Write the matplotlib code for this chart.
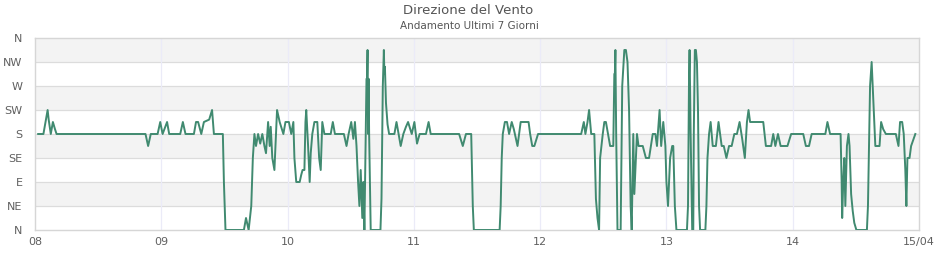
import matplotlib
matplotlib.use("Agg")
import matplotlib.pyplot as plt
import numpy as np

# Data: hours since 08/04 00:00 and wind direction index (0=N,1=NE,...,8=N)
day_offsets = [0, 24, 48, 72, 96, 120, 144]

day08_h = [0.6, 1.6, 2.0, 2.4, 2.6, 3.0, 3.4, 3.8, 4.1, 21.0, 21.5, 22.0, 23.3, 23.8]
day08_v = [4, 4, 4.5, 5, 4.6, 4, 4.5, 4.2, 4, 4, 3.5, 4, 4, 4.5]

day09_h = [0.25, 1.1, 1.5, 3.6, 4.1, 4.6, 6.2, 6.6, 7.0, 7.6, 8.1, 9.1, 9.65, 10.0,
           11.7, 11.9, 12.2, 15.7, 16.1, 16.6, 17.1, 17.4, 17.7, 18.0, 18.4, 18.8,
           19.2, 19.6, 19.9, 20.3, 20.6, 20.8, 21.1, 21.5, 22.0, 22.5, 23.2, 23.6]
day09_v = [4, 4.5, 4, 4, 4.5, 4, 4, 4.5, 4.5, 4, 4.5, 4.6, 5, 4,
           4, 2, 0, 0, 0.5, 0, 1, 3, 4, 3.5, 4, 3.6,
           4, 3.5, 3.2, 4.5, 3.5, 4.3, 3, 2.5, 5, 4.5, 4, 4.5]

day10_h = [0.25, 0.7, 1.1, 1.3, 1.65, 2.3, 2.6, 2.85, 3.2, 3.4, 3.55, 3.9, 4.2, 4.4,
           4.7, 5.1, 5.65, 6.0, 6.3, 6.6, 7.0, 8.2, 8.6, 9.0, 10.7, 11.2, 11.6,
           12.1, 12.5, 12.8, 13.1, 13.4, 13.65, 13.9, 14.2, 14.4, 14.6, 14.85,
           15.0, 15.1, 15.2, 15.3, 15.4, 15.5, 15.7, 15.8, 17.65, 17.85, 18.0,
           18.1, 18.2, 18.3, 18.4, 18.5, 18.7, 19.0, 19.3, 20.3, 20.7, 21.1, 21.5,
           22.0, 22.5, 22.9, 23.6]
day10_v = [4.5, 4, 4.5, 3, 2, 2, 2.3, 2.5, 2.5, 4.5, 5, 3.5, 2, 3.2,
           4, 4.5, 4.5, 3, 2.5, 4.5, 4, 4, 4.5, 4, 4, 3.5, 4,
           4.5, 3.8, 4.5, 3.5, 2, 1, 2.5, 0.5, 2, 0, 4,
           6.3, 6.3, 7.5, 4, 6.3, 4, 1.3, 0, 0, 1.3, 4,
           6, 6.8, 7.5, 6.5, 6.8, 5.3, 4.4, 4, 4, 4.5, 4, 3.5,
           4, 4.3, 4.5, 4]

day11_h = [0.1, 0.6, 1.1, 2.3, 2.8, 3.2, 8.6, 9.3, 9.9, 10.9, 11.0, 11.2, 11.4,
           16.3, 16.5, 16.7, 16.9, 17.3, 17.7, 18.1, 18.6, 19.0, 19.7, 20.3,
           21.8, 22.1, 22.5, 22.9, 23.6]
day11_v = [4.5, 3.6, 4, 4, 4.5, 4, 4, 3.5, 4, 4, 3, 1, 0,
           0, 1, 3, 4, 4.5, 4.5, 4, 4.5, 4.2, 3.5, 4.5,
           4.5, 4, 3.5, 3.5, 4]

day12_h = [0.0, 7.8, 8.3, 8.6, 9.0, 9.3, 9.7, 10.3, 10.6, 10.9, 11.2, 11.4, 11.9,
           12.2, 12.5, 12.9, 13.3, 13.9, 14.0, 14.1, 14.2, 14.3, 14.45, 14.7, 15.3,
           15.6, 16.0, 16.3, 16.6, 16.9, 17.2, 17.4, 17.7, 17.9, 18.1, 18.4, 18.7,
           19.5, 20.1, 20.7, 21.4, 21.9, 22.2, 22.7, 23.0, 23.4, 23.8]
day12_v = [4, 4, 4.5, 4, 4.5, 5, 4, 4, 1.3, 0.5, 0, 3, 4,
           4.5, 4.5, 4, 3.5, 3.5, 5, 6.5, 6.5, 7.5, 4, 0, 0,
           6, 7.5, 7.5, 7, 5, 1, 0, 4, 1.5, 2.5, 4, 3.5,
           3.5, 3, 3, 4, 4, 3.5, 5, 3.5, 4.5, 3.5]

day13_h = [0.0, 0.3, 0.7, 1.1, 1.3, 1.6, 1.9, 3.9, 4.1, 4.2, 4.3, 4.4, 4.6, 4.9, 5.1,
           5.2, 5.4, 5.6, 5.8, 6.0, 6.2, 6.4, 7.4, 7.6, 7.8, 8.1, 8.4, 8.8, 9.4,
           9.9, 10.5, 10.9, 11.4, 11.9, 12.4, 12.9, 13.4, 13.9, 14.4, 14.9,
           15.3, 15.6, 15.9, 18.4, 18.9, 19.9, 20.3, 20.7, 21.2, 21.7, 23.0, 23.7]
day13_v = [2, 1, 3, 3.5, 3.5, 1, 0, 0, 1, 4, 6.5, 7.5, 4, 0, 0,
           4, 7.5, 7.5, 7, 5, 1, 0, 0, 1, 3, 4, 4.5, 3.5, 3.5,
           4.5, 3.5, 3.5, 3, 3.5, 3.5, 4, 4, 4.5, 3.8, 3,
           4.5, 5, 4.5, 4.5, 3.5, 3.5, 4, 3.5, 4, 3.5, 3.5, 4]

day14_h = [0.0, 2.0, 2.5, 3.1, 3.6, 6.2, 6.6, 7.1, 9.1, 9.3, 9.4, 9.6, 9.8, 10.0,
           10.3, 10.6, 10.8, 11.1, 11.4, 11.7, 12.1, 14.1, 14.3, 14.5, 14.7,
           15.0, 15.1, 15.4, 15.7, 16.5, 16.8, 17.2, 17.7, 19.6, 20.1, 20.4,
           20.8, 21.1, 21.4, 21.6, 21.8, 22.2, 22.5, 23.3]
day14_v = [4, 4, 3.5, 3.5, 4, 4, 4.5, 4, 4, 2, 0.5, 2, 3, 1,
           3.5, 4, 3.5, 1.5, 0.8, 0.3, 0, 0, 1, 3.5, 6,
           7, 6.5, 5, 3.5, 3.5, 4.5, 4.2, 4, 4, 3.5, 4.5,
           4.5, 4, 2.5, 1, 3, 3, 3.5, 4]

day_hours = [day08_h, day09_h, day10_h, day11_h, day12_h, day13_h, day14_h]
day_values = [day08_v, day09_v, day10_v, day11_v, day12_v, day13_v, day14_v]

y_labels = ["N", "NE", "E", "SE", "S", "SW", "W", "NW", "N"]
x_labels = ["08", "09", "10", "11", "12", "13", "14", "15/04"]
title = "Direzione del Vento"
subtitle = "Andamento Ultimi 7 Giorni"

t = np.concatenate([(np.array(h) + off) / 24.0 for h, off in zip(day_hours, day_offsets)])
v = np.concatenate([np.array(vals, dtype=float) for vals in day_values])

plt.rcParams['font.family'] = ['DejaVu Sans']
fig = plt.figure(figsize=(9.4, 2.6), dpi=100)
ax = fig.add_axes([35/940, 30/260, 884/940, 192/260])

ax.set_xlim(0, 7)
ax.set_ylim(0, 8)

# alternating bands
for lo in range(1, 8, 2):
    ax.axhspan(lo, lo + 1, color="#f3f3f3", zorder=0, lw=0)
for yv in range(1, 8):
    ax.axhline(yv, color="#dcdcdc", lw=0.9, zorder=1)
for xv in range(1, 7):
    ax.axvline(xv, color="#ebebf8", lw=0.9, zorder=1)

ax.plot(t, v, color="#408a70", lw=1.4, zorder=3)

for s in ax.spines.values():
    s.set_color("#d6d6d6")
    s.set_linewidth(1.0)

ax.set_yticks(range(9))
ax.set_yticklabels(y_labels)
ax.set_xticks(range(8))
ax.set_xticklabels(x_labels)
ax.tick_params(axis="both", length=0, labelsize=8, colors="#606060")
ax.tick_params(axis="y", pad=9)
ax.tick_params(axis="x", pad=5)

fig.text(468/940, 1 - 11/260, title, ha="center", va="center", fontsize=9.5, color="#555555")
fig.text(469/940, 1 - 26/260, subtitle, ha="center", va="center", fontsize=7.5, color="#555555")

fig.savefig("out.png", dpi=100)
